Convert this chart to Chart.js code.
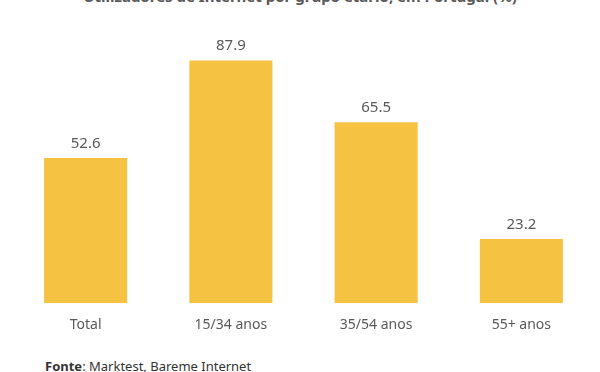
<!DOCTYPE html>
<html>
<head>
<meta charset="utf-8">
<script src="https://cdn.jsdelivr.net/npm/chart.js@4.4.0/dist/chart.umd.min.js"></script>
<style>
	html, body { margin: 0; padding: 0; background: #fff; }
	#wrap { position: relative; width: 600px; height: 372px; overflow: hidden; font-family: "Noto Sans", sans-serif; }
	#title { position: absolute; left: 0; width: 600px; top: -12px; text-align: center; font-size: 15px; font-weight: bold; color: #595959; line-height: 17px; }
	#box { position: absolute; left: 0; top: 0; width: 600px; height: 348px; }
	#src { position: absolute; left: 45px; top: 359px; font-size: 13px; color: #333; line-height: 15px; }
</style>
</head>
<body>
<div id="wrap">
	<div id="title">Utilizadores de Internet por grupo etário, em Portugal (%)</div>
	<div id="box"><canvas id="c"></canvas></div>
	<div id="src"><b>Fonte</b>: Marktest, Bareme Internet</div>
</div>
<script>
const categories = ['Total', '15/34 anos', '35/54 anos', '55+ anos'];
const values = [52.6, 87.9, 65.5, 23.2];

const barColor = '#F5C242';
const textColor = '#595959';

// value labels above each bar
const valueLabels = {
	id: 'valueLabels',
	afterDatasetsDraw(chart){
		const ctx = chart.ctx;
		const meta = chart.getDatasetMeta(0);
		ctx.save();
		ctx.fillStyle = textColor;
		ctx.font = '15px "Noto Sans", sans-serif';
		ctx.textAlign = 'center';
		ctx.textBaseline = 'bottom';
		meta.data.forEach((bar, i) => {
			ctx.fillText(values[i].toFixed(1), bar.x, bar.y - 7);
		});
		ctx.restore();
	}
};

new Chart(document.getElementById('c'), {
	type: 'bar',
	data: {
		labels: categories,
		datasets: [{ data: values, backgroundColor: barColor, borderWidth: 0, categoryPercentage: 1, barPercentage: 0.572 }]
	},
	options: {
		responsive: true,
		maintainAspectRatio: false,
		animation: false,
		layout: { padding: { left: 13, right: 6, top: 27, bottom: 10 } },
		plugins: { legend: { display: false }, tooltip: { enabled: false } },
		scales: {
			x: {
				grid: { display: false },
				border: { display: false },
				ticks: { color: textColor, font: { family: '"Noto Sans", sans-serif', size: 14 }, padding: 5 }
			},
			y: {
				display: false,
				min: 0,
				max: 100
			}
		}
	},
	plugins: [valueLabels]
});
</script>
</body>
</html>
